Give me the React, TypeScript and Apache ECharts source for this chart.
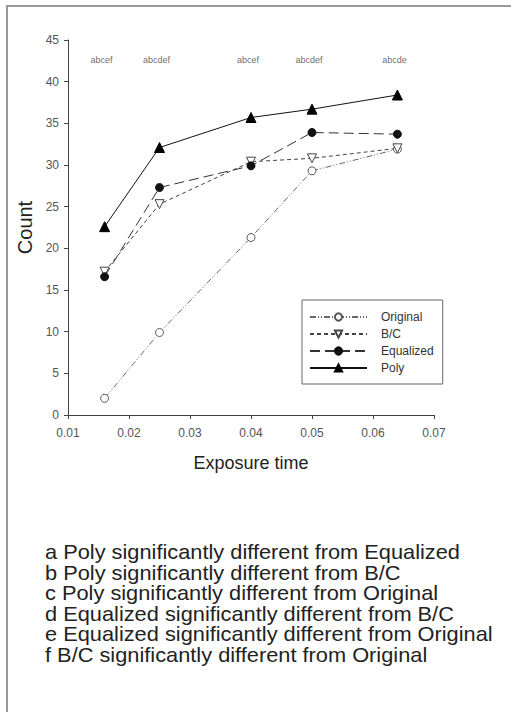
import React, { useEffect, useRef } from "react";
import * as echarts from "echarts";

const exposure = [0.016, 0.025, 0.04, 0.05, 0.064];
const original = [2.0, 9.9, 21.3, 29.3, 31.9];
const bc = [17.2, 25.3, 30.4, 30.8, 32.0];
const equalized = [16.6, 27.3, 29.9, 33.9, 33.7];
const poly = [22.6, 32.1, 35.7, 36.7, 38.4];
const sigLabels = ["abcef", "abcdef", "abcef", "abcdef", "abcde"];
const sigY = 42.6;
const notes = [
  "a Poly significantly different from Equalized",
  "b Poly significantly different from B/C",
  "c Poly significantly different from Original",
  "d Equalized significantly different from B/C",
  "e Equalized significantly different from Original",
  "f B/C significantly different from Original",
];

const pts = (ys: number[]) => exposure.map((x, i) => [x, ys[i]]);

export default function App() {
  const ref = useRef<HTMLDivElement>(null);
  useEffect(() => {
    document.body.style.margin = "0";
    const chart = echarts.init(ref.current!, null, { renderer: "svg" });
    const font = "Arial, 'Liberation Sans', sans-serif";
    chart.setOption({
      animation: false,
      backgroundColor: "#fff",
      textStyle: { fontFamily: font },
      grid: { left: 68, top: 40, right: 77, bottom: 297 },
      xAxis: {
        type: "value",
        min: 0.01,
        max: 0.07,
        interval: 0.01,
        splitLine: { show: false },
        axisLine: { lineStyle: { color: "#444", width: 1 } },
        axisTick: { show: true, inside: false, length: 4, lineStyle: { color: "#444" } },
        axisLabel: {
          margin: 12,
          fontSize: 12,
          color: "#555",
          formatter: (v: number) => v.toFixed(2),
        },
        name: "Exposure time",
        nameLocation: "middle",
        nameGap: 39,
        nameTextStyle: { fontSize: 18, color: "#222" },
      },
      yAxis: {
        type: "value",
        min: 0,
        max: 45,
        interval: 5,
        splitLine: { show: false },
        axisLine: { show: true, lineStyle: { color: "#444", width: 1 } },
        axisTick: { show: true, inside: false, length: 4, lineStyle: { color: "#444" } },
        axisLabel: { margin: 9, fontSize: 12, color: "#555" },
        name: "Count",
        nameLocation: "middle",
        nameGap: 31,
        nameTextStyle: { fontSize: 20, color: "#222" },
      },
      legend: {
        orient: "vertical",
        left: 302,
        top: 300,
        data: ["Original", "B/C", "Equalized", "Poly"],
        itemWidth: 57,
        itemHeight: 9,
        itemGap: 3,
        padding: [10, 9, 9, 7],
        borderColor: "#666",
        borderWidth: 1,
        textStyle: { fontSize: 12, lineHeight: 14, color: "#333", padding: [0, 0, 0, 9] },
      },
      series: [
        {
          name: "Original",
          type: "line",
          data: pts(original),
          symbol: "circle",
          symbolSize: 8,
          itemStyle: { color: "#fff", borderColor: "#555", borderWidth: 1 },
          lineStyle: { color: "#666", width: 1, type: [6, 2, 1, 2, 1, 2] },
        },
        {
          name: "B/C",
          type: "line",
          data: pts(bc),
          symbol: "triangle",
          symbolRotate: 180,
          symbolSize: 9,
          itemStyle: { color: "#fff", borderColor: "#444", borderWidth: 1 },
          lineStyle: { color: "#444", width: 1, type: [4, 3] },
        },
        {
          name: "Equalized",
          type: "line",
          data: pts(equalized),
          symbol: "circle",
          symbolSize: 8,
          itemStyle: { color: "#111", borderColor: "#111", borderWidth: 1 },
          lineStyle: { color: "#333", width: 1, type: [10, 5] },
        },
        {
          name: "Poly",
          type: "line",
          data: pts(poly),
          symbol: "triangle",
          symbolSize: 10,
          itemStyle: { color: "#000", borderColor: "#000", borderWidth: 1 },
          lineStyle: { color: "#111", width: 1, type: "solid" },
        },
        {
          name: "sig",
          type: "scatter",
          data: exposure.map((x, i) => ({ value: [x, sigY], name: sigLabels[i] })),
          symbolSize: 0,
          silent: true,
          label: {
            show: true,
            position: "inside",
            formatter: (p: any) => p.name,
            fontSize: 9,
            color: "#444",
            offset: [-3, 0],
          },
        },
      ],
      graphic: [
        {
          type: "rect",
          shape: { x: 7, y: 6, width: 700, height: 900 },
          style: { fill: "none", stroke: "#9a9a9a", lineWidth: 2 },
          silent: true,
        },
        ...notes.map((t, i) => ({
          type: "text",
          x: 45,
          y: 542 + i * 20.5,
          scaleX: 1.09,
          style: { text: t, font: `20px ${font}`, fill: "#222" },
        })),
      ],
    });
    return () => chart.dispose();
  }, []);
  return <div ref={ref} style={{ width: 511, height: 712 }} />;
}
